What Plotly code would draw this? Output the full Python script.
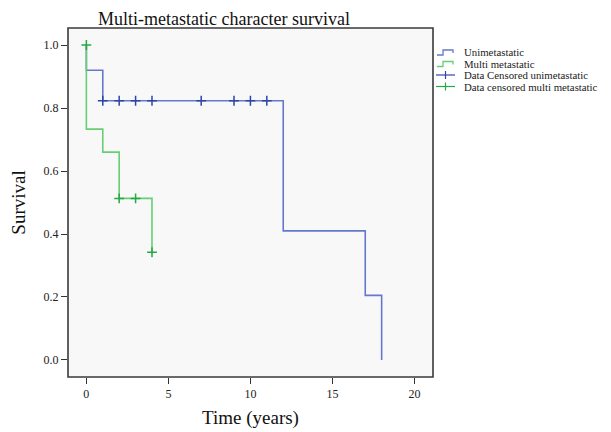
import plotly.graph_objects as go

# Kaplan-Meier step data
uni_time = [0, 0, 1, 12, 17, 18]
uni_surv = [1.0, 0.92, 0.823, 0.41, 0.205, 0.0]
multi_time = [0, 0, 1, 2, 4]
multi_surv = [1.0, 0.733, 0.66, 0.513, 0.342]

# censored observations
uni_cens_time = [1, 2, 3, 4, 7, 9, 10, 11]
uni_cens_surv = [0.823] * 8
multi_cens_time = [0, 2, 3, 4]
multi_cens_surv = [1.0, 0.513, 0.513, 0.342]

x_ticks = [0, 5, 10, 15, 20]
y_ticks = [0.0, 0.2, 0.4, 0.6, 0.8, 1.0]

legend_labels = ["Unimetastatic", "Multi metastatic",
                 "Data Censored unimetastatic", "Data censored multi metastatic"]

BLUE = "#6478cf"
GREEN = "#66cf74"
BLUE_M = "#2f44a8"
GREEN_M = "#26a844"
SERIF = "Liberation Serif, DejaVu Serif, serif"

fig = go.Figure()
fig.add_trace(go.Scatter(x=uni_time, y=uni_surv, mode="lines", line_shape="hv",
                         line=dict(color=BLUE, width=1.6), name=legend_labels[0]))
fig.add_trace(go.Scatter(x=multi_time, y=multi_surv, mode="lines", line_shape="hv",
                         line=dict(color=GREEN, width=1.6), name=legend_labels[1]))
fig.add_trace(go.Scatter(x=uni_cens_time, y=uni_cens_surv, mode="markers",
                         marker=dict(symbol="cross-thin", size=7,
                                     line=dict(color=BLUE_M, width=1.5)),
                         name=legend_labels[2]))
fig.add_trace(go.Scatter(x=multi_cens_time, y=multi_cens_surv, mode="markers",
                         marker=dict(symbol="cross-thin", size=7,
                                     line=dict(color=GREEN_M, width=1.5)),
                         name=legend_labels[3]))

# page has an 8px body margin; work in page pixels and convert
OFF = 8
W, H = 611, 432
L, T = 68 - OFF, 28 - OFF
pw, ph = 365, 349
R, B = W - L - pw, H - T - ph
def px(x):
    return (x - OFF - L) / pw
def py(y):
    return (T + ph - (y - OFF)) / ph

shapes = []
annotations = []
rows_y = [52, 63.5, 75, 86.5]
for i, (lab, yy) in enumerate(zip(legend_labels, rows_y)):
    annotations.append(dict(x=px(462), y=py(yy), xref="paper", yref="paper",
                            text=lab, showarrow=False, xanchor="left", yanchor="middle",
                            font=dict(family=SERIF, size=10.8, color="#222")))
    if i < 2:
        col = BLUE if i == 0 else GREEN
        path = "M {} {} L {} {} L {} {} L {} {} L {} {}".format(
            px(437), py(yy + 3), px(443), py(yy + 3), px(443), py(yy - 2),
            px(453), py(yy - 2), px(453), py(yy + 1))
        shapes.append(dict(type="path", path=path, xref="paper", yref="paper",
                           line=dict(color=col, width=1.3)))
    else:
        col = BLUE_M if i == 2 else GREEN_M
        shapes.append(dict(type="line", xref="paper", yref="paper",
                           x0=px(436), x1=px(455), y0=py(yy), y1=py(yy),
                           line=dict(color=col, width=1.2)))
        shapes.append(dict(type="line", xref="paper", yref="paper",
                           x0=px(445.5), x1=px(445.5), y0=py(yy - 4), y1=py(yy + 4),
                           line=dict(color=col, width=1.2)))

# frame
shapes.append(dict(type="rect", xref="paper", yref="paper", x0=0, x1=1, y0=0, y1=1,
                   line=dict(color="#3a3a3a", width=1.6), layer="above"))

annotations.append(dict(x=px(224), y=py(8.2), xref="paper", yref="paper",
                        text="Multi-metastatic character survival", showarrow=False,
                        xanchor="center", yanchor="top", borderpad=0,
                        font=dict(family=SERIF, size=18, color="#111")))

fig.update_layout(
    width=W, height=H,
    margin=dict(l=L, r=R, t=T, b=B, autoexpand=False),
    paper_bgcolor="white", plot_bgcolor="#f8f8f8",
    showlegend=False,
    shapes=shapes, annotations=annotations,
    font=dict(family=SERIF, color="#222"),
    xaxis=dict(range=[-1.12, 21.13], tickvals=x_ticks, ticks="outside", ticklen=6,
               tickcolor="#333", tickwidth=1.4, showgrid=False, zeroline=False,
               showline=False, automargin=False,
               tickfont=dict(size=12, family=SERIF, color="#222"),
               title=dict(text="Time (years)", font=dict(size=19, family=SERIF, color="#111"),
                          standoff=10)),
    yaxis=dict(range=[-0.054, 1.054], tickvals=y_ticks, tickformat=".1f",
               ticks="outside", ticklen=6, tickcolor="#333", tickwidth=1.2,
               showgrid=False, zeroline=False, showline=False, automargin=False,
               tickfont=dict(size=12, family=SERIF, color="#222"),
               title=dict(text="Survival", font=dict(size=19, family=SERIF, color="#111"),
                          standoff=18)),
)

fig.write_html("out.html")
